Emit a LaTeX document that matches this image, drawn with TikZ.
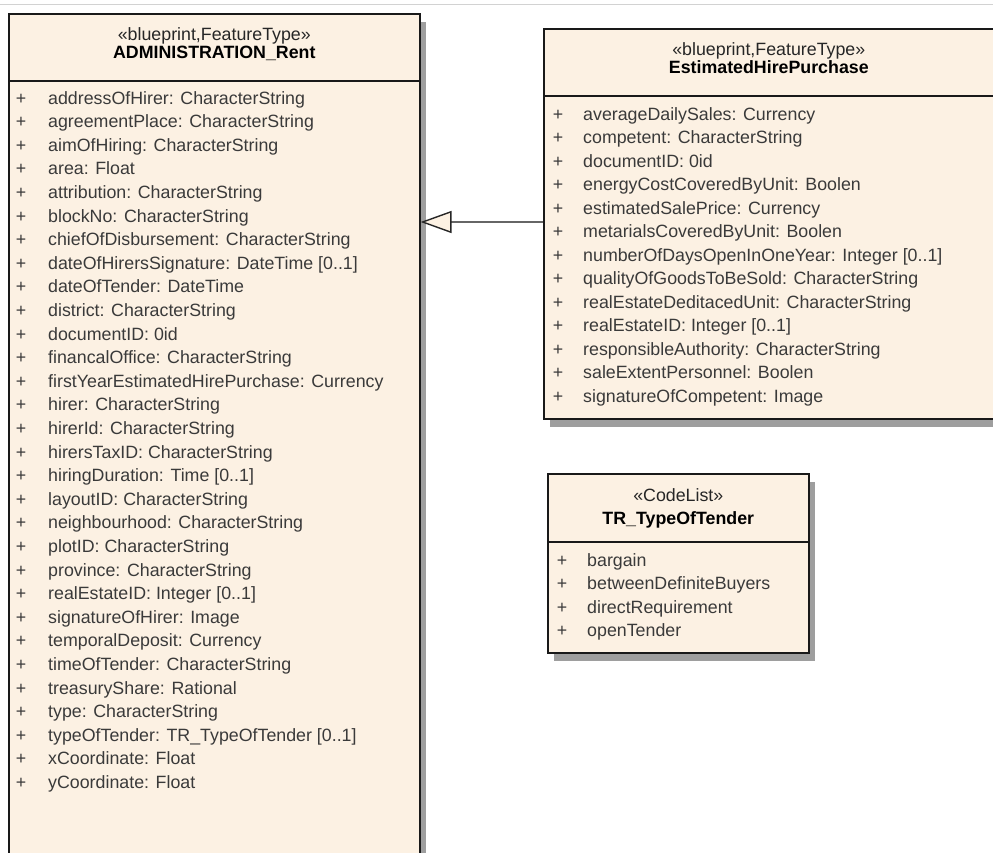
\documentclass[tikz,border=0pt]{standalone}
\usepackage{fontspec}
\setmainfont{Liberation Sans}
\usetikzlibrary{arrows.meta,shadows}

\definecolor{umlfill}{RGB}{252,241,227}
\definecolor{umltext}{RGB}{58,58,58}
\definecolor{umledge}{RGB}{25,25,25}

\tikzset{
  classbox/.style={draw=umledge, line width=1.6pt, fill=umlfill, rectangle, inner sep=0pt, anchor=north west,
    drop shadow={shadow xshift=6pt, shadow yshift=-8pt, fill=black!38, opacity=1}},
  sepline/.style={draw=umledge, line width=1.2pt},
  stereo/.style={font=\fontsize{17.8}{21}\selectfont, text=black!85, anchor=base, inner sep=0pt},
  classname/.style={font=\fontsize{17.8}{21}\selectfont\bfseries, text=black, anchor=base, inner sep=0pt},
  attr/.style={font=\fontsize{17.8}{21}\selectfont, text=umltext, anchor=base west, inner sep=0pt},
  plus/.style={font=\fontsize{17.8}{21}\selectfont, text=umltext, anchor=base, inner sep=0pt},
  inherit/.style={draw=black!60, line width=1.4pt,
    -{Triangle[length=31pt, width=22pt, fill=umlfill, color=black!85, line width=1.4pt]}}
}

\begin{document}
\begin{tikzpicture}[x=1pt, y=-1pt]
  \useasboundingbox (0,0) rectangle (993,852);
  % frame line
  \draw [gray!35, line width=1pt] (0,4) -- (993,4);

  % ADMINISTRATION_Rent
  \node [classbox, minimum width=411pt, minimum height=860pt] (admin) at (8,13) {};
  \draw [sepline] ([yshift=-68pt]admin.north west) -- ([yshift=-68pt]admin.north east);
  \node [stereo] (adminStereo) at ([yshift=-27pt]admin.north) {«blueprint,FeatureType»};
  \node [classname] (adminName) at ([yshift=-45pt]admin.north) {ADMINISTRATION\_Rent};
  \foreach \attr [count=\i from 0] in {addressOfHirer: CharacterString, agreementPlace: CharacterString,
      aimOfHiring: CharacterString, area: Float, attribution: CharacterString, blockNo: CharacterString,
      chiefOfDisbursement: CharacterString, dateOfHirersSignature: DateTime [0..1], dateOfTender: DateTime,
      district: CharacterString, documentID: 0id, financalOffice: CharacterString,
      firstYearEstimatedHirePurchase: Currency, hirer: CharacterString, hirerId: CharacterString,
      hirersTaxID: CharacterString, hiringDuration: Time [0..1], layoutID: CharacterString,
      neighbourhood: CharacterString, plotID: CharacterString, province: CharacterString,
      realEstateID: Integer [0..1], signatureOfHirer: Image, temporalDeposit: Currency,
      timeOfTender: CharacterString, treasuryShare: Rational, type: CharacterString,
      typeOfTender: TR\_TypeOfTender [0..1], xCoordinate: Float, yCoordinate: Float} {
    \node [plus] (adminPlus\i) at (21, {104+23.6*\i}) {+};
    \node [attr] (adminAttr\i) at (48, {104+23.6*\i}) {\attr};
  }

  % EstimatedHirePurchase
  \node [classbox, minimum width=450pt, minimum height=390pt] (hire) at (543,28) {};
  \draw [sepline] ([yshift=-68pt]hire.north west) -- ([yshift=-68pt]hire.north east);
  \node [stereo] (hireStereo) at ([yshift=-27pt]hire.north) {«blueprint,FeatureType»};
  \node [classname] (hireName) at ([yshift=-45pt]hire.north) {EstimatedHirePurchase};
  \foreach \attr [count=\i from 0] in {averageDailySales: Currency, competent: CharacterString,
      documentID: 0id, energyCostCoveredByUnit: Boolen, estimatedSalePrice: Currency,
      metarialsCoveredByUnit: Boolen, numberOfDaysOpenInOneYear: Integer [0..1],
      qualityOfGoodsToBeSold: CharacterString, realEstateDeditacedUnit: CharacterString,
      realEstateID: Integer [0..1], responsibleAuthority: CharacterString,
      saleExtentPersonnel: Boolen, signatureOfCompetent: Image} {
    \node [plus] (hirePlus\i) at (558, {120+23.5*\i}) {+};
    \node [attr] (hireAttr\i) at (583, {120+23.5*\i}) {\attr};
  }

  % TR_TypeOfTender
  \node [classbox, minimum width=261pt, minimum height=179pt] (tender) at (547,473) {};
  \draw [sepline] ([yshift=-69pt]tender.north west) -- ([yshift=-69pt]tender.north east);
  \node [stereo] (tenderStereo) at ([yshift=-28pt]tender.north) {«CodeList»};
  \node [classname] (tenderName) at ([yshift=-51pt]tender.north) {TR\_TypeOfTender};
  \foreach \attr [count=\i from 0] in {bargain, betweenDefiniteBuyers, directRequirement, openTender} {
    \node [plus] (tenderPlus\i) at (562, {566+23.5*\i}) {+};
    \node [attr] (tenderAttr\i) at (587, {566+23.5*\i}) {\attr};
  }

  % generalization
  \coordinate (genY) at (0,222);
  \draw [inherit] (hire.west |- genY) -- (admin.east |- genY);
\end{tikzpicture}
\end{document}
